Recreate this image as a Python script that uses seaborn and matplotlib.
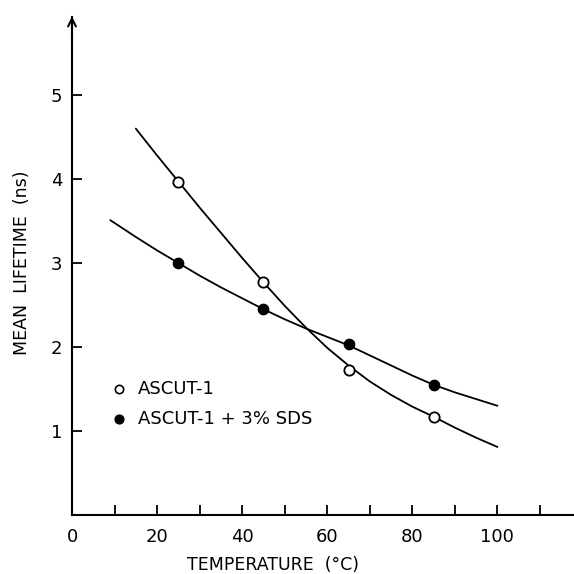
import numpy as np
import pandas as pd
import seaborn as sns
import matplotlib.pyplot as plt

# measured points
temp = [25, 45, 65, 85]
ascut = [3.97, 2.77, 1.73, 1.17]
ascut_sds = [3.00, 2.45, 2.03, 1.55]

# hand-drawn fit curves
curve_x_open = [15, 20, 25, 30, 35, 40, 45, 50, 55, 60, 65, 70, 75, 80, 85, 90, 95, 100]
curve_y_open = [4.60, 4.28, 3.97, 3.66, 3.36, 3.06, 2.77, 2.49, 2.23, 1.99, 1.78, 1.59, 1.43, 1.29, 1.17, 1.04, 0.92, 0.81]
curve_x_fill = [9, 15, 20, 25, 30, 35, 40, 45, 50, 55, 60, 65, 70, 75, 80, 85, 90, 95, 100]
curve_y_fill = [3.51, 3.31, 3.15, 3.00, 2.85, 2.71, 2.58, 2.45, 2.33, 2.22, 2.12, 2.02, 1.90, 1.78, 1.66, 1.55, 1.46, 1.38, 1.30]

sns.set_style('ticks')
plt.rcParams['font.family'] = ['DejaVu Sans']
plt.rcParams['text.color'] = 'black'
plt.rcParams['axes.labelcolor'] = 'black'
plt.rcParams['xtick.color'] = 'black'
plt.rcParams['ytick.color'] = 'black'
plt.rcParams['axes.edgecolor'] = 'black'

fig = plt.figure(figsize=(5.74, 5.74), dpi=100)
ax = fig.add_axes([72/574, 59/574, 502/574, 504/574])

sns.lineplot(x=curve_x_open, y=curve_y_open, color='black', lw=1.3, ax=ax)
sns.lineplot(x=curve_x_fill, y=curve_y_fill, color='black', lw=1.3, ax=ax)
sns.scatterplot(x=temp, y=ascut, marker='o', s=55, facecolor='white',
                edgecolor='black', linewidth=1.3, zorder=3, ax=ax)
sns.scatterplot(x=temp, y=ascut_sds, marker='o', s=55, color='black',
                edgecolor='black', linewidth=1.0, zorder=3, ax=ax)

ax.set_xlim(0, 118)
ax.set_ylim(0, 6.0)
sns.despine(ax=ax)
for sp in ['left', 'bottom']:
    ax.spines[sp].set_linewidth(1.5)
ax.spines['left'].set_bounds(0, 5.93)

ax.set_xticks([0, 20, 40, 60, 80, 100])
ax.set_xticks([10, 30, 50, 70, 90, 110], minor=True)
ax.set_yticks([1, 2, 3, 4, 5])
ax.tick_params(axis='both', which='both', direction='in', length=7, width=1.3,
               labelsize=13)
ax.tick_params(axis='x', pad=9)
ax.tick_params(axis='y', pad=7)

# arrow on top of y axis
ax.annotate('', xy=(0, 5.97), xytext=(0, 5.6), annotation_clip=False,
            arrowprops=dict(arrowstyle='->', lw=1.5, color='black',
                            mutation_scale=14))

# legend drawn like the original
ax.scatter([11], [1.5], s=36, facecolor='white', edgecolor='black', lw=1.2)
ax.scatter([11], [1.14], s=40, color='black')
ax.text(15.5, 1.5, 'ASCUT-1', fontsize=13, va='center')
ax.text(15.5, 1.14, 'ASCUT-1 + 3% SDS', fontsize=13, va='center')

ax.set_xlabel('TEMPERATURE  (°C)', fontsize=12.5)
ax.set_ylabel('MEAN  LIFETIME  (ns)', fontsize=12.5, labelpad=14)
ax.xaxis.set_label_coords(0.4, -0.082)

fig.savefig('out.png', dpi=100)
